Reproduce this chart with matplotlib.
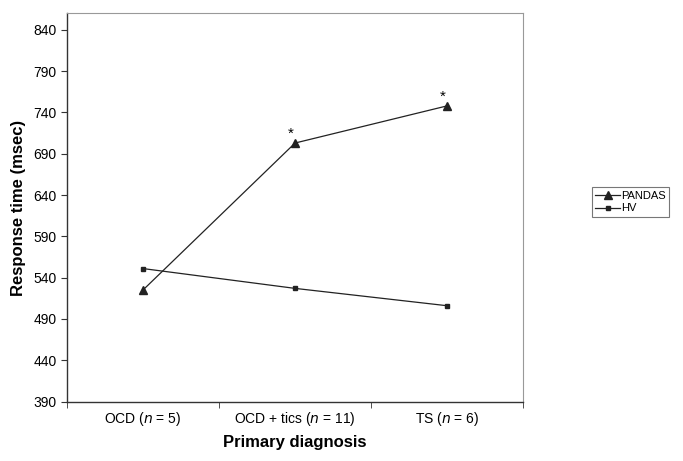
import matplotlib.pyplot as plt
import numpy as np

plt.rcParams["font.family"] = ["Liberation Sans", "DejaVu Sans"]

categories = ["OCD ($\\it{n}$ = 5)", "OCD + tics ($\\it{n}$ = 11)", "TS ($\\it{n}$ = 6)"]
pandas_rt = [525, 703, 748]
hv_rt = [551, 527, 506]
significant = [False, True, True]
yticks = [390, 440, 490, 540, 590, 640, 690, 740, 790, 840]

fig = plt.figure(figsize=(6.83, 4.61), dpi=100)
ax = fig.add_axes([0.098, 0.129, 0.668, 0.842])

x = np.arange(len(categories))
ax.plot(x, pandas_rt, "-", color="#222222", lw=0.9, marker="^", markersize=6,
        markerfacecolor="#222222", markeredgecolor="#222222", label="PANDAS")
ax.plot(x, hv_rt, "-", color="#222222", lw=0.9, marker="s", markersize=3.5,
        markerfacecolor="#222222", markeredgecolor="#222222", label="HV")

for xi, yi, sig in zip(x, pandas_rt, significant):
    if sig:
        ax.text(xi - 0.03, yi + 3, "*", ha="center", va="bottom", fontsize=11)

ax.set_xlim(-0.5, 2.5)
ax.set_ylim(390, 860)
ax.set_yticks(yticks)
ax.set_xticks(x)
ax.set_xticklabels(categories, fontsize=10)
ax.set_xticks([-0.5, 0.5, 1.5, 2.5], minor=True)
ax.tick_params(axis="x", which="major", length=0, pad=6)
ax.tick_params(axis="x", which="minor", length=4, color="#333333")
ax.tick_params(axis="y", labelsize=10, length=4, color="#333333")

for side in ["left", "bottom"]:
    ax.spines[side].set_color("#333333")
    ax.spines[side].set_linewidth(1.0)
for side in ["top", "right"]:
    ax.spines[side].set_color("#999999")
    ax.spines[side].set_linewidth(0.8)

ax.set_ylabel("Response time (msec)", fontsize=12, fontweight="bold", labelpad=5)
ax.set_xlabel("Primary diagnosis", fontsize=12, fontweight="bold", labelpad=5)

leg = ax.legend(loc="center left", bbox_to_anchor=(1.151, 0.514), fontsize=8,
                frameon=True, fancybox=False, handlelength=2.2, borderpad=0.3,
                labelspacing=0.25, handletextpad=0.1, borderaxespad=0)
leg.get_frame().set_edgecolor("#555555")
leg.get_frame().set_linewidth(0.8)

fig.savefig("out.png", dpi=100)
